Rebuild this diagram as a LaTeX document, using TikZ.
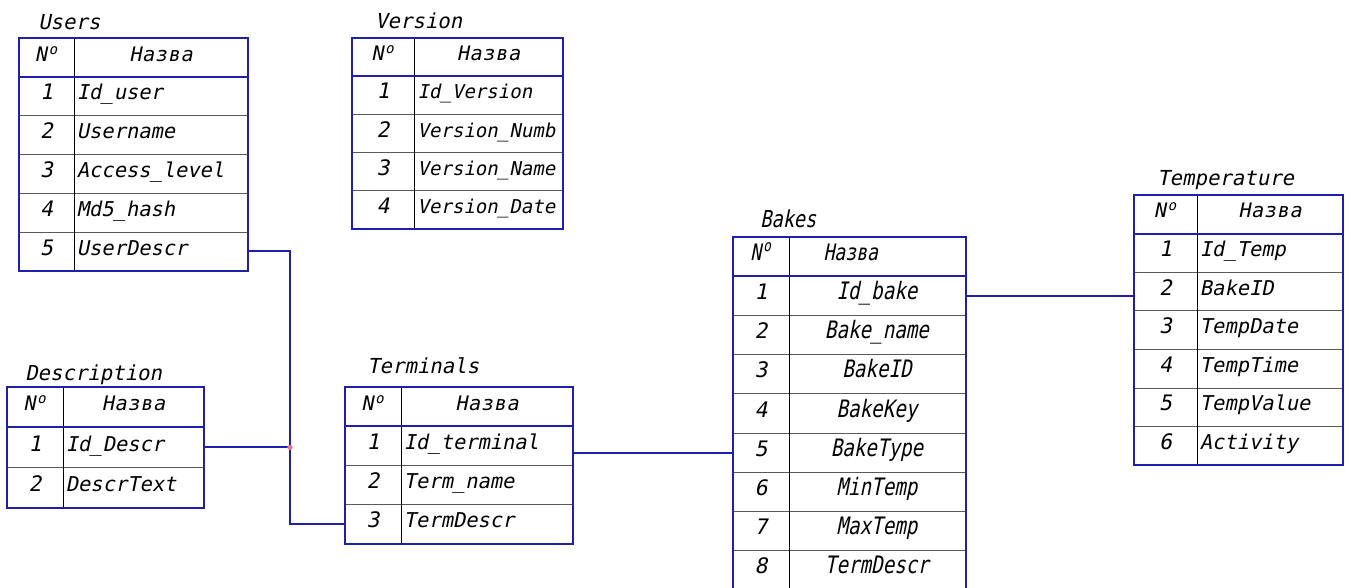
\documentclass[tikz,border=0pt]{standalone}
\usepackage{fontspec}
\setmainfont{DejaVu Sans Mono}
\newfontfamily\gostb{DejaVu Sans Mono}[FakeSlant=0.2]
\newfontfamily\gosth{DejaVu Sans Mono}[FakeSlant=0.2,LetterSpace=4]
\newfontfamily\gosta{DejaVu Sans Mono}[FakeSlant=0.2,FakeStretch=0.8]
\usetikzlibrary{fit}
\definecolor{tblue}{RGB}{30,30,175}
\definecolor{tgray}{RGB}{90,90,90}
\definecolor{tpink}{RGB}{225,120,140}
\tikzset{
  blueline/.style={draw=tblue,line width=1.5pt},
  rowline/.style={draw=tgray,line width=0.75pt},
  colline/.style={draw=black,line width=0.75pt},
  conn/.style={draw=tblue,line width=1.5pt},
  cellbox/.style={inner sep=0pt,outer sep=0pt},
  titletext/.style={font=\gostb\fontsize{15.5}{18}\selectfont,inner sep=0pt,anchor=base west},
  headtext/.style={font=\gosth\fontsize{15}{18}\selectfont,inner sep=0pt,anchor=mid},
  numtext/.style={font=\gostb\fontsize{16}{18}\selectfont,inner sep=0pt,anchor=mid},
  rowtext/.style={font=\gostb\fontsize{15.3}{18}\selectfont,inner sep=0pt,anchor=mid west,xshift=2pt},
}
\newcommand\dbtable[8]{%
  \pgfmathsetmacro\tbhb{#5+#6}%
  \pgfmathsetmacro\tbbt{#5+#6*(#7+1)}%
  \foreach \k in {2,...,#7}{\draw[rowline] (#2,{#5+#6*\k}) -- (#4,{#5+#6*\k});}%
  \draw[colline] (#3,#5) -- (#3,\tbbt);%
  \draw[blueline] (#2,\tbhb) -- (#4,\tbhb);%
  \draw[blueline] (#2,#5) rectangle (#4,\tbbt);%
  \node[fit={(#2,#5) (#3,\tbhb)},cellbox] (#1-hc) {};%
  \node[fit={(#3,#5) (#4,\tbhb)},cellbox] (#1-hd) {};%
  \node[headtext] (#1-hnum) at (#1-hc.center) {N\kern1.5pt\textsuperscript{o}};%
  \node[headtext,headname] (#1-hname) at (#1-hd.center) {Назва};%
  \foreach \t [count=\i] in {#8}{%
    \node[fit={(#2,{#5+#6*\i}) (#3,{#5+#6*(\i+1)})},cellbox] (#1-c\i) {};
    \node[fit={(#3,{#5+#6*\i}) (#4,{#5+#6*(\i+1)})},cellbox] (#1-\i) {};
    \node[numtext] (#1-n\i) at (#1-c\i.center) {\i};
    \node[rowtext] (#1-t\i) at (#1-\i.west) {\t};
  }%
}
\tikzset{headname/.style={}}
\begin{document}
\begin{tikzpicture}[x=0.75pt,y=-0.75pt]
\fill[white] (0,0) rectangle (1351,587);
\useasboundingbox (0,0) rectangle (1351,587);

% titles
\node[titletext] (users-title) at (38,29) {Users};
\node[titletext] (version-title) at (375,28) {Version};
\node[titletext] (desc-title) at (25,380) {Description};
\node[titletext] (term-title) at (367,373) {Terminals};
\node[titletext,font=\gosta\fontsize{17.5}{20}\selectfont] (bakes-title) at (760,227) {Bakes};
\node[titletext] (temp-title) at (1157,185) {Temperature};

\dbtable{users}{19}{74}{248}{38}{38.8}{5}{Id\_user,Username,Access\_level,Md5\_hash,UserDescr}
\begin{scope}[rowtext/.style={font=\gostb\fontsize{14.3}{18}\selectfont,inner sep=0pt,anchor=mid west,xshift=2.5pt}]
\dbtable{version}{352}{414}{563}{38}{38.2}{4}{Id\_Version,Version\_Numb,Version\_Name,Version\_Date}
\end{scope}
\dbtable{desc}{7}{63}{204}{387}{40.3}{2}{Id\_Descr,DescrText}
\dbtable{term}{345}{401}{573}{387}{39.2}{3}{Id\_terminal,Term\_name,TermDescr}
\begin{scope}[
  rowtext/.style={font=\gosta\fontsize{18}{20}\selectfont,inner sep=0pt,anchor=mid,xshift=66pt},
  headtext/.style={font=\gosta\fontsize{17}{18}\selectfont,inner sep=0pt,anchor=mid},
  headname/.style={xshift=-20pt}]
\dbtable{bakes}{733}{789}{966}{237}{39.2}{8}{Id\_bake,Bake\_name,BakeID,BakeKey,BakeType,MinTemp,MaxTemp,TermDescr}
\end{scope}
\dbtable{temp}{1134}{1197}{1343}{195}{38.6}{6}{Id\_Temp,BakeID,TempDate,TempTime,TempValue,Activity}

% connectors
\path (desc-1.east) ++(86,0) coordinate (j);
\draw[conn] (users-5.east) -| (j) |- (term-c3.west);
\draw[conn] (desc-1.east) -- (j);
\fill[tpink] (j) circle (2pt);
\draw[conn] (bakes-c5.west) -- (bakes-c5.west -| term-1.east);
\draw[conn] (bakes-1.east) -- (bakes-1.east -| temp-c2.west);
\end{tikzpicture}
\end{document}
